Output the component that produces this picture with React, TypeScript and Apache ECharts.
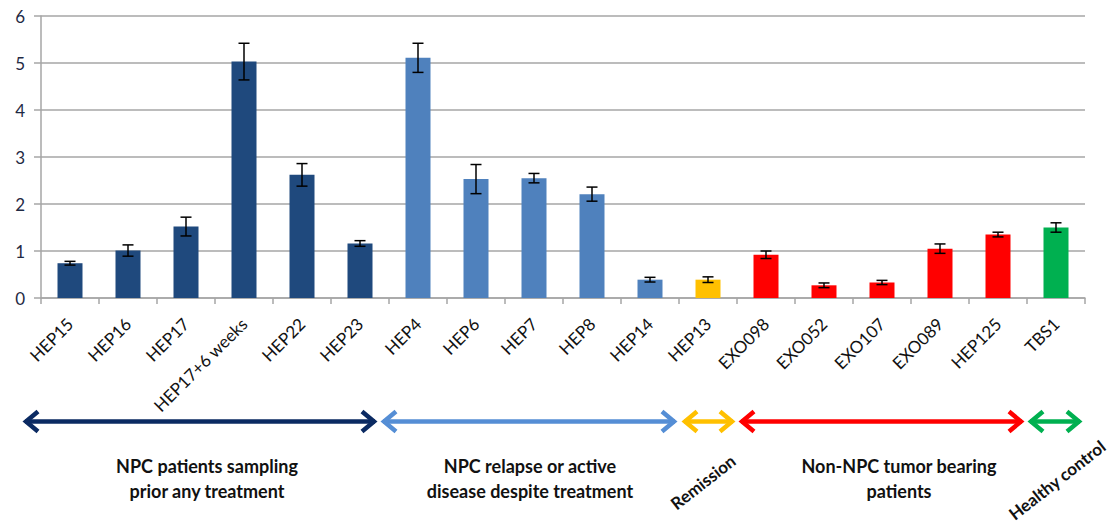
import React, { useEffect, useRef } from "react";
import * as echarts from "echarts";

const categories = [
  "HEP15", "HEP16", "HEP17", "HEP17+6 weeks", "HEP22", "HEP23",
  "HEP4", "HEP6", "HEP7", "HEP8", "HEP14", "HEP13",
  "EXO098", "EXO052", "EXO107", "EXO089", "HEP125", "TBS1",
];
const values = [0.74, 1.01, 1.52, 5.03, 2.62, 1.16, 5.11, 2.53, 2.55, 2.21, 0.39, 0.39, 0.92, 0.27, 0.33, 1.05, 1.35, 1.5];
const errors = [0.04, 0.12, 0.2, 0.39, 0.24, 0.06, 0.31, 0.31, 0.1, 0.15, 0.05, 0.06, 0.08, 0.05, 0.045, 0.1, 0.05, 0.1];
const groupOfBar = [0, 0, 0, 0, 0, 0, 1, 1, 1, 1, 1, 2, 3, 3, 3, 3, 3, 4];
const groupNames = [
  "NPC patients sampling\nprior any treatment",
  "NPC relapse or active\ndisease despite treatment",
  "Remission",
  "Non-NPC tumor bearing\npatients",
  "Healthy control",
];
const barColors = ["#1F497D", "#4F81BD", "#FFC000", "#FF0000", "#00B050"];
const arrowColors = ["#0B2A62", "#558ED5", "#FFC000", "#FF0000", "#00B050"];

// layout of the annotation band (pixels)
const arrowY = 421.5;
const arrowSpans = [
  [23, 377],
  [381, 677],
  [682, 735],
  [739, 1024],
  [1028, 1082],
];
const labelLayout = [
  { x: 207, y: 478, rot: 0, size: 18 },
  { x: 530, y: 478, rot: 0, size: 18 },
  { x: 703, y: 482, rot: 38, size: 17 },
  { x: 899, y: 478, rot: 0, size: 18 },
  { x: 1057, y: 480, rot: 38, size: 17 },
];

const FONT = "Lato, 'Open Sans', sans-serif";

function arrowGraphics() {
  const out: any[] = [];
  arrowSpans.forEach(([x1, x2], i) => {
    const color = arrowColors[i];
    const style = { stroke: color, lineWidth: 4.5, lineCap: "butt", lineJoin: "miter" };
    out.push({ type: "line", shape: { x1: x1 + 2, y1: arrowY, x2: x2 - 2, y2: arrowY }, style, z: 10 });
    out.push({
      type: "polyline",
      shape: { points: [[x1 + 15, arrowY - 10], [x1 + 3, arrowY], [x1 + 15, arrowY + 10]] },
      style: { ...style, fill: null },
      z: 10,
    });
    out.push({
      type: "polyline",
      shape: { points: [[x2 - 15, arrowY - 10], [x2 - 3, arrowY], [x2 - 15, arrowY + 10]] },
      style: { ...style, fill: null },
      z: 10,
    });
  });
  groupNames.forEach((name, i) => {
    const l = labelLayout[i];
    out.push({
      type: "text",
      x: l.x,
      y: l.y,
      rotation: (l.rot * Math.PI) / 180,
      style: {
        text: name,
        fill: "#111",
        font: `bold ${l.size}px ${FONT}`,
        align: "center",
        verticalAlign: "middle",
        lineHeight: 25,
      },
      z: 10,
    });
  });
  return out;
}

export default function App() {
  const ref = useRef<HTMLDivElement>(null);
  useEffect(() => {
    if (!ref.current) return;
    const chart = echarts.init(ref.current, undefined, { renderer: "svg" });
    const errData = categories.map((_, i) => [i, values[i] - errors[i], values[i] + errors[i]]);
    chart.setOption({
      animation: false,
      backgroundColor: "#fff",
      grid: { left: 41, right: 29, top: 16, bottom: 229, containLabel: false },
      xAxis: {
        type: "category",
        data: categories,
        axisLine: { lineStyle: { color: "#a6a6a6", width: 1.5 } },
        axisTick: { show: true, length: 6, lineStyle: { color: "#a6a6a6", width: 1.5 } },
        axisLabel: {
          rotate: 45,
          margin: 23,
          interval: 0,
          color: "#111",
          fontSize: 17,
          fontFamily: FONT,
        },
        splitLine: { show: false },
      },
      yAxis: {
        type: "value",
        min: 0,
        max: 6,
        interval: 1,
        axisLine: { show: true, lineStyle: { color: "#a6a6a6", width: 1.5 } },
        axisTick: { show: true, length: 7, lineStyle: { color: "#a6a6a6", width: 1.5 } },
        axisLabel: { margin: 16, color: "#1f2a44", fontSize: 17, fontFamily: FONT },
        splitLine: { show: true, lineStyle: { color: "#a6a6a6", width: 1.5 } },
      },
      series: [
        {
          type: "bar",
          barWidth: 25,
          data: values.map((v, i) => ({
            value: v,
            itemStyle: { color: barColors[groupOfBar[i]] },
          })),
          z: 2,
        },
        {
          type: "custom",
          z: 5,
          data: errData,
          encode: { x: 0, y: [1, 2] },
          renderItem: (params: any, api: any) => {
            const x = api.value(0);
            const lo = api.coord([x, api.value(1)]);
            const hi = api.coord([x, api.value(2)]);
            const w = 5.5;
            const st = { stroke: "#000", lineWidth: 1.5 };
            return {
              type: "group",
              children: [
                { type: "line", shape: { x1: hi[0], y1: hi[1], x2: lo[0], y2: lo[1] }, style: st },
                { type: "line", shape: { x1: hi[0] - w, y1: hi[1], x2: hi[0] + w, y2: hi[1] }, style: st },
                { type: "line", shape: { x1: lo[0] - w, y1: lo[1], x2: lo[0] + w, y2: lo[1] }, style: st },
              ],
            };
          },
        },
      ],
      graphic: arrowGraphics(),
    });
    return () => chart.dispose();
  }, []);
  return (
    <div
      ref={ref}
      style={{ position: "fixed", left: 0, top: 0, width: 1114, height: 527, background: "#fff" }}
    />
  );
}
